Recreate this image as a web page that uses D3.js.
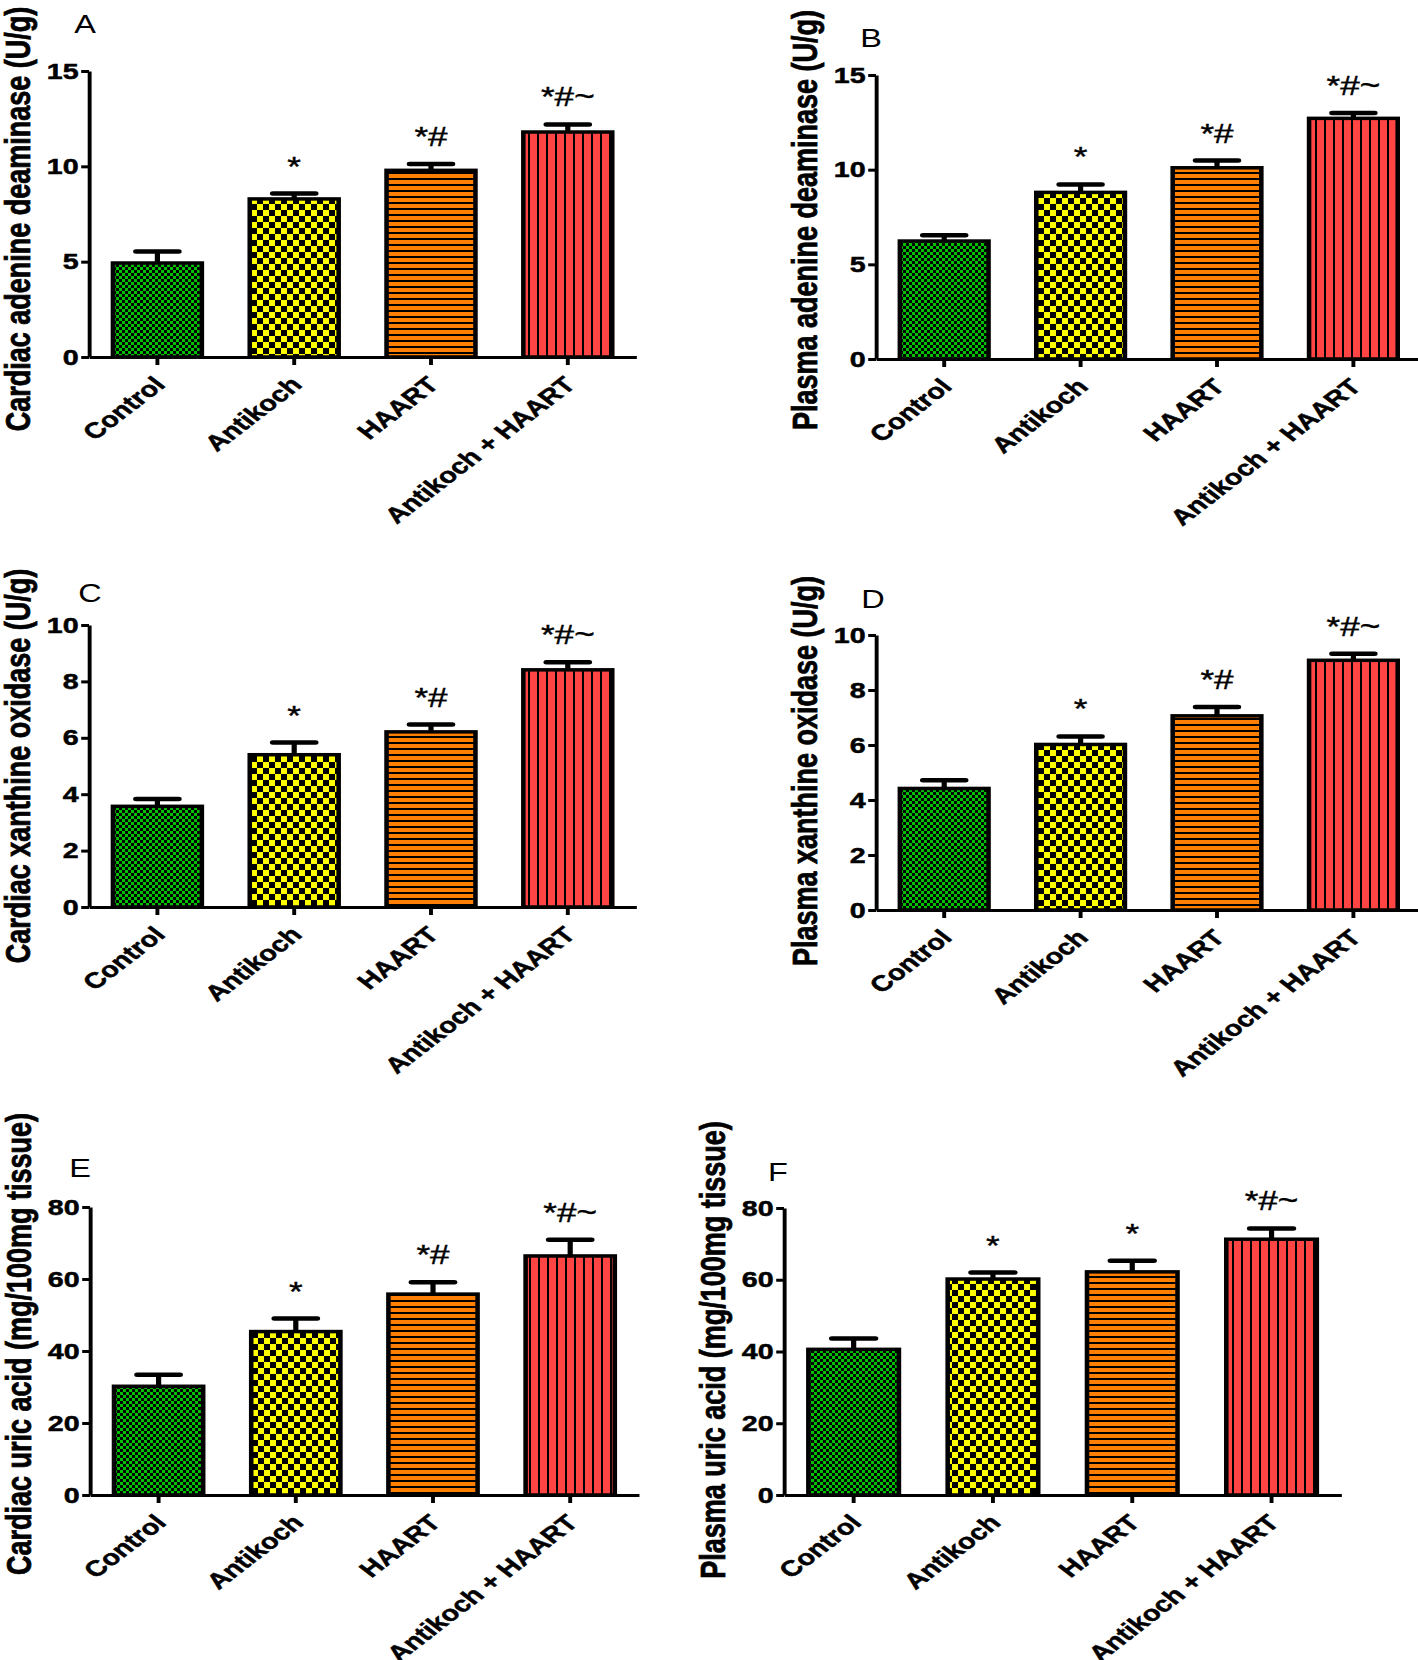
<!DOCTYPE html>
<html><head><meta charset="utf-8">
<script src="https://cdn.jsdelivr.net/npm/d3@7"></script>
<style>
body{margin:0;background:#fff}
svg{display:block}
text{font-family:"Liberation Sans",Arial,sans-serif}
</style>
</head><body>
<svg id="chart" width="1418" height="1660"></svg>
<script>
// ---------- DATA ----------
const categories = ["Control", "Antikoch", "HAART", "Antikoch + HAART"];

const cardiacADAMean = [4.93, 8.29, 9.79, 11.8];
const cardiacADAErr  = [0.60, 0.28, 0.33, 0.40];
const plasmaADAMean  = [6.23, 8.80, 10.1, 12.71];
const plasmaADAErr   = [0.30, 0.42, 0.38, 0.28];
const cardiacXOMean  = [3.57, 5.40, 6.21, 8.41];
const cardiacXOErr   = [0.26, 0.43, 0.26, 0.27];
const plasmaXOMean   = [4.42, 6.02, 7.06, 9.08];
const plasmaXOErr    = [0.30, 0.29, 0.32, 0.24];
const cardiacUAMean  = [30.2, 45.4, 55.8, 66.4];
const cardiacUAErr   = [3.2, 3.6, 3.3, 4.5];
const plasmaUAMean   = [40.6, 60.2, 62.2, 71.3];
const plasmaUAErr    = [3.0, 1.8, 3.1, 3.0];

const ticksADA = [0, 5, 10, 15];
const ticksXO  = [0, 2, 4, 6, 8, 10];
const ticksUA  = [0, 20, 40, 60, 80];

const signifStd = ["", "*", "*#", "*#~"];
const signifF   = ["", "*", "*", "*#~"];

const panelLetters = ["A", "B", "C", "D", "E", "F"];
const yTitles = [
  "Cardiac adenine deaminase (U/g)",
  "Plasma adenine deaminase (U/g)",
  "Cardiac xanthine oxidase (U/g)",
  "Plasma xanthine oxidase (U/g)",
  "Cardiac uric acid (mg/100mg tissue)",
  "Plasma uric acid (mg/100mg tissue)"
];

// ---------- LAYOUT ----------
const S = 1.3; // horizontal stretch of the original figure
const layout = [
  {axisX: 89,  yTop: 71,   yBottom: 357, step: 136.8, letterX: 85,  letterY: 33,   titleY: 219},
  {axisX: 876, yTop: 75,   yBottom: 359, step: 136.4, letterX: 871, letterY: 47,   titleY: 220},
  {axisX: 89,  yTop: 625,  yBottom: 907, step: 136.8, letterX: 90,  letterY: 602,  titleY: 766},
  {axisX: 876, yTop: 635,  yBottom: 910, step: 136.4, letterX: 873, letterY: 608,  titleY: 771},
  {axisX: 90,  yTop: 1207, yBottom: 1495, step: 137.2, letterX: 80, letterY: 1177, titleY: 1344},
  {axisX: 784, yTop: 1208, yBottom: 1495, step: 139.3, letterX: 778, letterY: 1181, titleY: 1350}
];

const panels = [
  {mean: cardiacADAMean, err: cardiacADAErr, ticks: ticksADA, sig: signifStd},
  {mean: plasmaADAMean,  err: plasmaADAErr,  ticks: ticksADA, sig: signifStd},
  {mean: cardiacXOMean,  err: cardiacXOErr,  ticks: ticksXO,  sig: signifStd},
  {mean: plasmaXOMean,   err: plasmaXOErr,   ticks: ticksXO,  sig: signifStd},
  {mean: cardiacUAMean,  err: cardiacUAErr,  ticks: ticksUA,  sig: signifStd},
  {mean: plasmaUAMean,   err: plasmaUAErr,   ticks: ticksUA,  sig: signifF}
];

const patternIds = ["pGreen", "pYellow", "pOrange", "pRed"];

const svg = d3.select("#chart");
const defs = svg.append("defs");
const ptf = `scale(${1 / S},1)`;

// green fine checker
let p = defs.append("pattern").attr("id", "pGreen").attr("patternUnits", "userSpaceOnUse")
  .attr("width", 6).attr("height", 6).attr("patternTransform", ptf);
p.append("rect").attr("width", 6).attr("height", 6).attr("fill", "#000");
p.append("rect").attr("width", 3).attr("height", 3).attr("fill", "#00c000");
p.append("rect").attr("x", 3).attr("y", 3).attr("width", 3).attr("height", 3).attr("fill", "#00c000");
// yellow coarse checker
p = defs.append("pattern").attr("id", "pYellow").attr("patternUnits", "userSpaceOnUse")
  .attr("width", 12).attr("height", 12).attr("patternTransform", ptf);
p.append("rect").attr("width", 12).attr("height", 12).attr("fill", "#000");
p.append("rect").attr("width", 6).attr("height", 6).attr("fill", "#ffff00");
p.append("rect").attr("x", 6).attr("y", 6).attr("width", 6).attr("height", 6).attr("fill", "#ffff00");
// orange horizontal stripes
p = defs.append("pattern").attr("id", "pOrange").attr("patternUnits", "userSpaceOnUse")
  .attr("width", 6).attr("height", 6).attr("patternTransform", ptf);
p.append("rect").attr("width", 6).attr("height", 6).attr("fill", "#ff8000");
p.append("rect").attr("y", 4).attr("width", 6).attr("height", 2).attr("fill", "#000");
// red vertical stripes
p = defs.append("pattern").attr("id", "pRed").attr("patternUnits", "userSpaceOnUse")
  .attr("width", 9).attr("height", 9).attr("patternTransform", ptf);
p.append("rect").attr("width", 9).attr("height", 9).attr("fill", "#ff4444");
p.append("rect").attr("x", 7).attr("width", 2).attr("height", 9).attr("fill", "#000");

panels.forEach((pd, i) => {
  const L = layout[i];
  const g = svg.append("g").attr("transform", `translate(${L.axisX},0) scale(${S},1)`);
  const innerW = (L.step * categories.length) / S;
  const maxT = pd.ticks[pd.ticks.length - 1];

  const x = d3.scaleBand().domain(categories).range([0, innerW]).paddingInner(0.35).paddingOuter(0.175);
  const y = d3.scaleLinear().domain([0, maxT]).range([L.yBottom, L.yTop]);
  const bw = x.bandwidth();

  // bars
  g.selectAll("rect.bar").data(categories).join("rect").attr("class", "bar")
    .attr("x", d => x(d))
    .attr("y", (d, j) => y(pd.mean[j]))
    .attr("width", bw)
    .attr("height", (d, j) => y(0) - y(pd.mean[j]))
    .attr("fill", (d, j) => `url(#${patternIds[j]})`)
    .attr("stroke", "#000").attr("stroke-width", 3.5);

  // error bars (upper only)
  const eb = g.selectAll("g.err").data(categories).join("g").attr("class", "err");
  eb.append("line")
    .attr("x1", d => x(d) + bw / 2).attr("x2", d => x(d) + bw / 2)
    .attr("y1", (d, j) => y(pd.mean[j])).attr("y2", (d, j) => y(pd.mean[j] + pd.err[j]))
    .attr("stroke", "#000").attr("stroke-width", 4);
  eb.append("line")
    .attr("x1", d => x(d) + bw / 2 - bw * 0.24).attr("x2", d => x(d) + bw / 2 + bw * 0.24)
    .attr("y1", (d, j) => y(pd.mean[j] + pd.err[j])).attr("y2", (d, j) => y(pd.mean[j] + pd.err[j]))
    .attr("stroke", "#000").attr("stroke-width", 4.5).attr("stroke-linecap", "round");

  // significance labels
  g.selectAll("text.sig").data(categories).join("text").attr("class", "sig")
    .attr("x", d => x(d) + bw / 2)
    .attr("y", (d, j) => y(pd.mean[j] + pd.err[j]) - 18)
    .attr("text-anchor", "middle")
    .attr("font-size", 27)
    .attr("stroke", "#000").attr("stroke-width", 0.4)
    .text((d, j) => pd.sig[j]);

  // y axis
  const ya = g.append("g")
    .call(d3.axisLeft(y).tickValues(pd.ticks).tickFormat(d3.format("d")).tickSize(6).tickPadding(2).tickSizeOuter(0));
  ya.select(".domain").attr("stroke-width", 3);
  ya.selectAll(".tick line").attr("stroke-width", 3);
  ya.selectAll("text").attr("font-family", "'Liberation Sans',Arial,sans-serif")
    .attr("font-size", 22).attr("font-weight", "bold").attr("fill", "#000")
    .attr("stroke", "#000").attr("stroke-width", 0.5);

  // x axis
  const xa = g.append("g").attr("transform", `translate(0,${L.yBottom})`)
    .call(d3.axisBottom(x).tickSize(8).tickSizeOuter(0));
  xa.select(".domain").attr("stroke-width", 3);
  xa.selectAll(".tick line").attr("stroke-width", 3);
  xa.selectAll("text")
    .attr("font-family", "'Liberation Sans',Arial,sans-serif")
    .attr("font-size", 22).attr("font-weight", "bold").attr("fill", "#000")
    .attr("stroke", "#000").attr("stroke-width", 0.5)
    .attr("y", 0).attr("dy", 0).attr("text-anchor", "end")
    .attr("transform", "translate(7,29) rotate(-45)");

  // y title
  g.append("text")
    .attr("transform", `translate(-45.5,${L.titleY}) rotate(-90)`)
    .attr("text-anchor", "middle")
    .attr("font-size", 27).attr("font-weight", "bold")
    .attr("stroke", "#000").attr("stroke-width", 0.6)
    .text(yTitles[i]);

  // panel letter
  g.append("text")
    .attr("x", (L.letterX - L.axisX) / S).attr("y", L.letterY)
    .attr("text-anchor", "middle").attr("font-size", 25)
    .text(panelLetters[i]);
});
</script>
</body></html>
